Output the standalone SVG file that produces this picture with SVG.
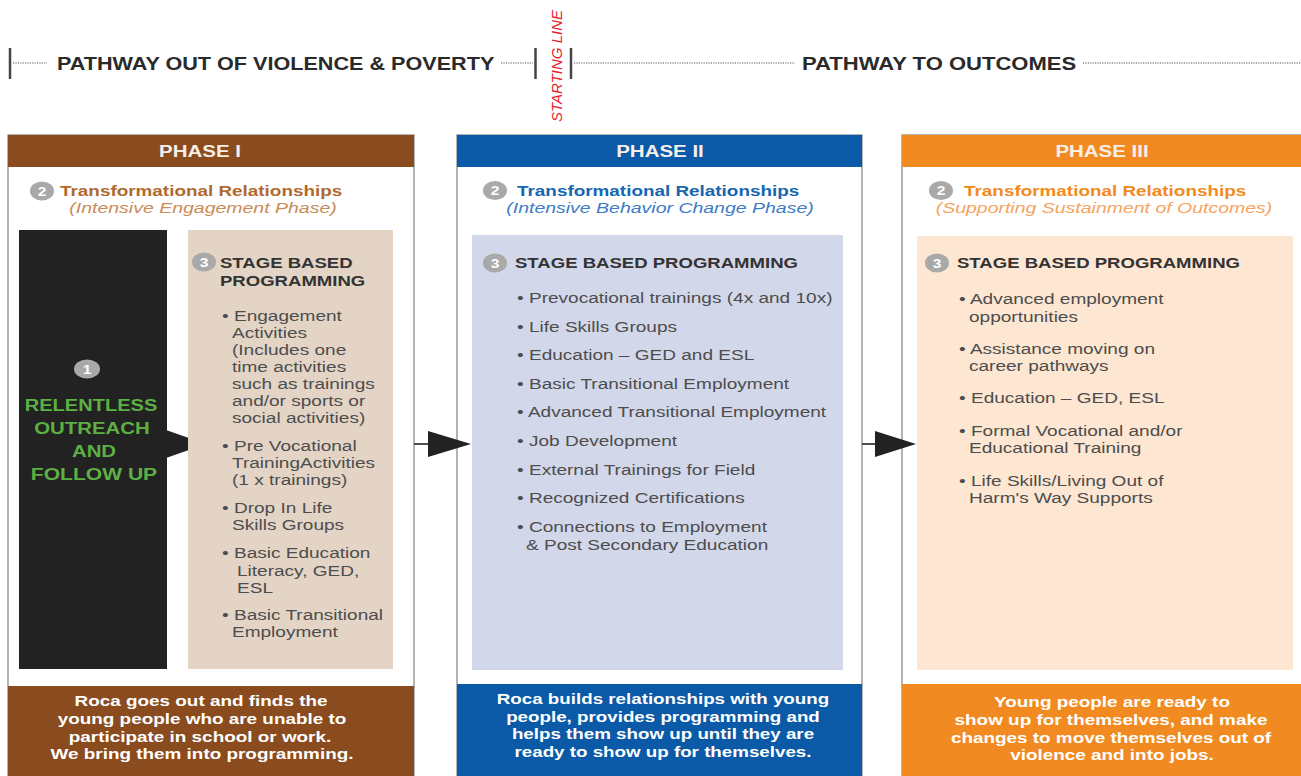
<svg xmlns="http://www.w3.org/2000/svg" width="1301" height="776" viewBox="0 0 1301 776">
<style>
text{font-family:"Liberation Sans",Arial,sans-serif}
.hdr{font-size:17.5px;font-weight:bold;fill:#2a2a2a}
.tick{stroke:#444;stroke-width:2.5}
.dot{stroke:#555;stroke-width:1.2;stroke-dasharray:1.2 1.2}
.frame{fill:#fff;stroke:#9b9b9b;stroke-width:1.5}
.ph{font-size:16px;font-weight:bold;fill:#f6efe8;text-anchor:middle}
.num{fill:#a9a9a9}
.nt{font-size:12px;font-weight:bold;fill:#fff;text-anchor:middle}
.tt{font-size:15px;font-weight:bold}
.st{font-size:15px;font-style:italic;text-anchor:middle}
.sg{font-size:14.5px;font-weight:bold;fill:#333}
.bl{font-size:15px;fill:#4d4d4d}
.gr{font-size:17px;font-weight:bold;fill:#5db043;text-anchor:middle}
.bd{font-size:14px;font-weight:bold;fill:#fff;text-anchor:middle}
.conn{stroke:#222;stroke-width:1.6}
.head{fill:#222}
</style>

<g id="top-header">
  <line class="tick" x1="10" y1="48" x2="10" y2="79"/>
  <line class="dot" x1="13" y1="63" x2="47" y2="63"/>
  <text class="hdr" transform="translate(57 69.5) scale(1.235 1)">PATHWAY OUT OF VIOLENCE &amp; POVERTY</text>
  <line class="dot" x1="501" y1="63" x2="533" y2="63"/>
  <line class="tick" x1="535.5" y1="48" x2="535.5" y2="79"/>
  <text transform="translate(562 66) rotate(-90)" style="font-size:15px;font-style:italic;fill:#e8202a;text-anchor:middle">STARTING LINE</text>
  <line class="tick" x1="571" y1="48" x2="571" y2="79"/>
  <line class="dot" x1="574" y1="63" x2="795" y2="63"/>
  <text class="hdr" transform="translate(802 69.5) scale(1.26 1)">PATHWAY TO OUTCOMES</text>
  <line class="dot" x1="1083" y1="63" x2="1301" y2="63"/>
</g>

<g id="phase1">
  <rect class="frame" x="8" y="135" width="406" height="645"/>
  <rect x="8" y="135" width="406" height="32" fill="#8a4b1f"/>
  <text class="ph" transform="translate(200 157) scale(1.28 1)">PHASE I</text>
  <ellipse class="num" cx="42" cy="191" rx="12" ry="9.5"/>
  <text class="nt" transform="translate(42 195.5) scale(1.3 1)">2</text>
  <text class="tt" fill="#b0692f" transform="translate(60 196) scale(1.26 1)">Transformational Relationships</text>
  <text class="st" fill="#c98b57" transform="translate(203 213) scale(1.3 1)">(Intensive Engagement Phase)</text>

  <g id="outreach">
    <rect x="19" y="230" width="148" height="439" fill="#222"/>
    <polygon points="166,430 206,444 166,458" fill="#222"/>
    <ellipse class="num" cx="87" cy="369" rx="13" ry="9.5"/>
    <text class="nt" transform="translate(87 373.5) scale(1.3 1)">1</text>
    <text class="gr" transform="translate(91 411) scale(1.18 1)">RELENTLESS</text>
    <text class="gr" transform="translate(92 434) scale(1.2 1)">OUTREACH</text>
    <text class="gr" transform="translate(94 457) scale(1.2 1)">AND</text>
    <text class="gr" transform="translate(94 480) scale(1.24 1)">FOLLOW UP</text>
  </g>

  <g id="programming1">
    <rect x="188" y="230" width="205" height="439" fill="#e3d4c6"/>
    <ellipse class="num" cx="204" cy="262" rx="12" ry="9.5"/>
    <text class="nt" transform="translate(204 266.5) scale(1.3 1)">3</text>
    <text class="sg" transform="translate(220 268) scale(1.28 1)">STAGE BASED</text>
    <text class="sg" transform="translate(220 286) scale(1.28 1)">PROGRAMMING</text>
    <text class="bl" transform="translate(222 320.5) scale(1.27 1)">• Engagement</text>
    <text class="bl" transform="translate(232 337.5) scale(1.27 1)">Activities</text>
    <text class="bl" transform="translate(232 354.5) scale(1.27 1)">(Includes one</text>
    <text class="bl" transform="translate(232 371.5) scale(1.27 1)">time activities</text>
    <text class="bl" transform="translate(232 389) scale(1.27 1)">such as trainings</text>
    <text class="bl" transform="translate(232 406) scale(1.27 1)">and/or sports or</text>
    <text class="bl" transform="translate(232 423) scale(1.27 1)">social activities)</text>
    <text class="bl" transform="translate(222 451) scale(1.27 1)">• Pre Vocational</text>
    <text class="bl" transform="translate(232 468) scale(1.27 1)">TrainingActivities</text>
    <text class="bl" transform="translate(232 485) scale(1.27 1)">(1 x trainings)</text>
    <text class="bl" transform="translate(222 513) scale(1.27 1)">• Drop In Life</text>
    <text class="bl" transform="translate(232 530) scale(1.27 1)">Skills Groups</text>
    <text class="bl" transform="translate(222 558) scale(1.27 1)">• Basic Education</text>
    <text class="bl" transform="translate(237 576) scale(1.27 1)">Literacy, GED,</text>
    <text class="bl" transform="translate(237 593) scale(1.27 1)">ESL</text>
    <text class="bl" transform="translate(222 620) scale(1.27 1)">• Basic Transitional</text>
    <text class="bl" transform="translate(232 637) scale(1.27 1)">Employment</text>
  </g>

  <rect x="8" y="686" width="406" height="90" fill="#8a4b1f"/>
  <text class="bd" transform="translate(201 706) scale(1.35 1)">Roca goes out and finds the</text>
  <text class="bd" transform="translate(202 724) scale(1.35 1)">young people who are unable to</text>
  <text class="bd" transform="translate(200 741.5) scale(1.35 1)">participate in school or work.</text>
  <text class="bd" transform="translate(202 759) scale(1.35 1)">We bring them into programming.</text>
</g>

<g id="phase2">
  <rect class="frame" x="457" y="135" width="405" height="645"/>
  <rect x="457" y="135" width="405" height="32" fill="#0a5aa8"/>
  <text class="ph" transform="translate(660 157) scale(1.28 1)">PHASE II</text>
  <ellipse class="num" cx="495" cy="190.5" rx="12" ry="9.5"/>
  <text class="nt" transform="translate(495 195) scale(1.3 1)">2</text>
  <text class="tt" fill="#1666b2" transform="translate(517 196) scale(1.26 1)">Transformational Relationships</text>
  <text class="st" fill="#3d7cc5" transform="translate(660 213) scale(1.3 1)">(Intensive Behavior Change Phase)</text>

  <g id="programming2">
    <rect x="472" y="235" width="371" height="435" fill="#d3d7ea"/>
    <ellipse class="num" cx="495" cy="263" rx="12" ry="9.5"/>
    <text class="nt" transform="translate(495 267.5) scale(1.3 1)">3</text>
    <text class="sg" transform="translate(515 268) scale(1.28 1)">STAGE BASED PROGRAMMING</text>
    <text class="bl" transform="translate(517 303) scale(1.27 1)">• Prevocational trainings (4x and 10x)</text>
    <text class="bl" transform="translate(517 332) scale(1.27 1)">• Life Skills Groups</text>
    <text class="bl" transform="translate(517 360) scale(1.27 1)">• Education – GED and ESL</text>
    <text class="bl" transform="translate(517 388.5) scale(1.27 1)">• Basic Transitional Employment</text>
    <text class="bl" transform="translate(517 417) scale(1.27 1)">• Advanced Transitional Employment</text>
    <text class="bl" transform="translate(517 446) scale(1.27 1)">• Job Development</text>
    <text class="bl" transform="translate(517 474.5) scale(1.27 1)">• External Trainings for Field</text>
    <text class="bl" transform="translate(517 503) scale(1.27 1)">• Recognized Certifications</text>
    <text class="bl" transform="translate(517 532) scale(1.27 1)">• Connections to Employment</text>
    <text class="bl" transform="translate(526 550) scale(1.27 1)">&amp; Post Secondary Education</text>
  </g>

  <rect x="457" y="684" width="405" height="92" fill="#0a5aa8"/>
  <text class="bd" transform="translate(663 704) scale(1.34 1)">Roca builds relationships with young</text>
  <text class="bd" transform="translate(663 721.5) scale(1.34 1)">people, provides programming and</text>
  <text class="bd" transform="translate(663 739) scale(1.34 1)">helps them show up until they are</text>
  <text class="bd" transform="translate(663 756.5) scale(1.34 1)">ready to show up for themselves.</text>
</g>

<g id="phase3">
  <rect class="frame" x="902" y="135" width="410" height="645"/>
  <rect x="902" y="135" width="399" height="32" fill="#f28a22"/>
  <text class="ph" transform="translate(1102 157) scale(1.28 1)">PHASE III</text>
  <ellipse class="num" cx="941" cy="190.5" rx="12" ry="9.5"/>
  <text class="nt" transform="translate(941 195) scale(1.3 1)">2</text>
  <text class="tt" fill="#f28a22" transform="translate(964 196) scale(1.26 1)">Transformational Relationships</text>
  <text class="st" fill="#f6a35f" transform="translate(1104 213) scale(1.3 1)">(Supporting Sustainment of Outcomes)</text>

  <g id="programming3">
    <rect x="917" y="236" width="376" height="434" fill="#fde6d2"/>
    <ellipse class="num" cx="937" cy="263" rx="12" ry="9.5"/>
    <text class="nt" transform="translate(937 267.5) scale(1.3 1)">3</text>
    <text class="sg" transform="translate(957 268) scale(1.28 1)">STAGE BASED PROGRAMMING</text>
    <text class="bl" transform="translate(959 304) scale(1.27 1)">• Advanced employment</text>
    <text class="bl" transform="translate(969 322) scale(1.27 1)">opportunities</text>
    <text class="bl" transform="translate(959 354) scale(1.27 1)">• Assistance moving on</text>
    <text class="bl" transform="translate(969 371) scale(1.27 1)">career pathways</text>
    <text class="bl" transform="translate(959 403) scale(1.27 1)">• Education – GED, ESL</text>
    <text class="bl" transform="translate(959 436) scale(1.27 1)">• Formal Vocational and/or</text>
    <text class="bl" transform="translate(969 453) scale(1.27 1)">Educational Training</text>
    <text class="bl" transform="translate(959 486) scale(1.27 1)">• Life Skills/Living Out of</text>
    <text class="bl" transform="translate(969 503) scale(1.27 1)">Harm's Way Supports</text>
  </g>

  <rect x="902" y="684" width="399" height="92" fill="#f28a22"/>
  <text class="bd" transform="translate(1112 707) scale(1.35 1)">Young people are ready to</text>
  <text class="bd" transform="translate(1111 725) scale(1.35 1)">show up for themselves, and make</text>
  <text class="bd" transform="translate(1111 743) scale(1.35 1)">changes to move themselves out of</text>
  <text class="bd" transform="translate(1112 760) scale(1.35 1)">violence and into jobs.</text>
</g>

<g id="connectors">
  <line class="conn" x1="414" y1="444" x2="430" y2="444"/>
  <polygon class="head" points="428,431 471,444 428,457"/>
  <line class="conn" x1="862" y1="444" x2="877" y2="444"/>
  <polygon class="head" points="875,431 916,444 875,457"/>
</g>
</svg>
